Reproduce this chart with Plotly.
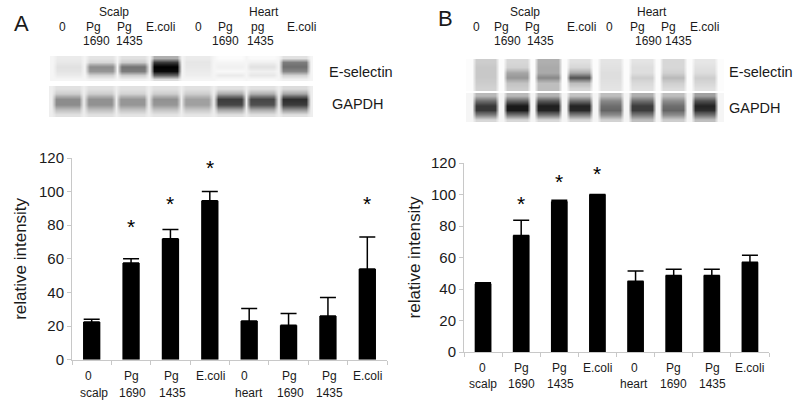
import plotly.graph_objects as go

# ---------- data ----------
values_a = [22.5, 57.5, 72, 94.5, 23, 20.5, 26, 54]
errors_a = [1.5, 2.5, 5.5, 5.5, 7.5, 7, 11, 19]
values_b = [43.3, 74, 95.5, 100, 45, 48.5, 48.5, 57]
errors_b = [0.7, 9.7, 0.8, 0, 6.5, 4, 4, 4.5]
stars_a = [(1, 79.5), (2, 93), (3, 114.5), (7, 93)]
stars_b = [(1, 94.5), (2, 108), (3, 113.5)]
y_ticks = [0, 20, 40, 60, 80, 100, 120]

line1_a = ["0", "Pg", "Pg", "E.coli", "0", "Pg", "Pg", "E.coli"]
line2_a = ["scalp", "1690", "1435", "", "heart", "1690", "1435", ""]
shift1_a = [-3, 0, 1, 1, -5, 1, 2, 0]
shift2_a = [2, 1, 2, 0, 0, 2, 2, 0]
shift1_b = [-1, 0, 0, 0, -1, 0, 1, 0]
shift2_b = [0, 0, 1, 0, -2, 0, 1, 0]

# gray levels of the blots, one top-to-bottom profile per lane
esel_a = [[235,232,225,228,235,245],[228,215,140,150,210,240],[225,205,115,125,205,240],[175,60,0,10,100,220],
          [235,230,232,235,238,245],[252,245,240,248,235,248],[250,240,225,240,232,248],[225,125,110,135,210,240]]
gapdh_a = [[225,205,140,140,190,225],[225,205,145,145,190,225],[225,210,150,150,195,228],[225,205,145,150,195,228],
           [225,205,160,160,200,230],[225,170,60,70,165,225],[225,175,70,80,170,225],[220,165,45,60,150,225]]
esel_b = [[205,200,200,200,205,210],[215,210,165,150,195,205],[175,170,170,135,190,190],[225,215,170,80,190,215],
          [228,225,222,222,225,228],[228,222,222,205,218,225],[215,215,208,185,208,220],[230,225,220,205,215,225]]
gapdh_b = [[185,110,55,55,125,215],[185,100,25,25,115,215],[180,90,30,35,115,215],[195,110,35,40,125,215],
           [190,135,110,100,140,210],[175,110,60,60,120,190],[190,140,110,100,140,205],[160,80,35,45,110,190]]

top_labels_a = [("Scalp",114,12),("Heart",264,12),("0",62,27),("Pg",93,27),("Pg",124,27),("E.coli",160,27),
                ("0",198,27),("Pg",225,27),("pg",257,27),("E.coli",301,27),("1690",96,41),("1435",129,41),
                ("1690",226,41),("1435",260,41)]
top_labels_b = [("Scalp",525,12),("Heart",652,12),("0",477,27),("Pg",502,27),("Pg",532,27),("E.coli",581,27),
                ("0",609,27),("Pg",637,27),("Pg",668,27),("E.coli",704,27),("1690",507,41),("1435",540,41),
                ("1690",648,41),("1435",678,41)]

# ---------- helpers ----------
W, H = 800, 404
FONT = "Liberation Sans"
INK = "#1a1a1a"
AXIS = "#c8c8c8"
px = lambda x: x / W
py = lambda y: 1 - y / H

def blot_matrix(profiles, repeat, gap, gap_cols):
    rows = []
    for r in range(len(profiles[0])):
        row = [gap] * gap_cols
        for lane in profiles:
            row += [lane[r]] * repeat + [gap] * gap_cols
        rows.append(row)
    return rows

fig = go.Figure()

def add_bars(values, errors, xa, ya):
    fig.add_trace(go.Bar(
        x=list(range(8)), y=values, width=0.44, marker=dict(color="#000000", line_width=0),
        error_y=dict(type="data", symmetric=False, array=errors, arrayminus=[0]*8,
                     color="#000000", thickness=1.5, width=8),
        xaxis=xa, yaxis=ya, showlegend=False))

add_bars(values_a, errors_a, "x", "y")
add_bars(values_b, errors_b, "x2", "y2")

blots = [
    (esel_a, 6, 245, 1, (50, 313), (56, 81)),
    (gapdh_a, 6, 238, 1, (49, 313), (86, 117)),
    (esel_b, 6, 252, 2, (466, 724), (59, 91)),
    (gapdh_b, 6, 245, 2, (466, 724), (93, 122)),
]
layout = {}
for i, (prof, rep, gap, gap_cols, xr, yr) in enumerate(blots):
    n = i + 3
    fig.add_trace(go.Heatmap(z=blot_matrix(prof, rep, gap, gap_cols), zmin=0, zmax=255, zsmooth="best",
                             colorscale=[[0, "#000000"], [1, "#ffffff"]], showscale=False,
                             xaxis=f"x{n}", yaxis=f"y{n}", hoverinfo="skip"))
    layout[f"xaxis{n}"] = dict(domain=[px(xr[0]), px(xr[1])], visible=False, anchor=f"y{n}")
    layout[f"yaxis{n}"] = dict(domain=[py(yr[1]), py(yr[0])], visible=False, anchor=f"x{n}",
                               autorange="reversed")

def x_axis(dom, anchor):
    return dict(domain=[px(dom[0]), px(dom[1])], range=[-0.5, 7.5], anchor=anchor, showgrid=False,
                zeroline=False, showline=True, linecolor=AXIS, linewidth=1, tick0=-0.5, dtick=1,
                ticks="outside", ticklen=4, tickcolor=AXIS, showticklabels=False, automargin=False)

def y_axis(dom, anchor, standoff):
    return dict(domain=[py(dom[1]), py(dom[0])], range=[0, 120], anchor=anchor, showgrid=False,
                zeroline=False, showline=True, linecolor=AXIS, linewidth=1, tickvals=y_ticks,
                ticks="outside", ticklen=4, tickcolor=AXIS, automargin=False,
                tickfont=dict(family=FONT, size=15, color=INK),
                title=dict(text="relative intensity", standoff=standoff,
                           font=dict(family=FONT, size=17, color=INK)))

layout.update(
    xaxis=x_axis((72, 387), "y"), yaxis=y_axis((158, 359.7), "x", 8),
    xaxis2=x_axis((464, 769), "y2"), yaxis2=y_axis((163, 352), "x2", 6),
)

ann = []
def label(text, x, y, size=12):
    ann.append(dict(text=text, x=px(x), y=py(y), xref="paper", yref="paper", showarrow=False,
                    xanchor="center", yanchor="middle", font=dict(family=FONT, size=size, color=INK)))

for t, x, y in top_labels_a + top_labels_b:
    label(t, x, y)
label("E-selectin", 361, 72, 14.5)
label("GAPDH", 358, 104, 14.5)
label("E-selectin", 761, 72, 14.5)
label("GAPDH", 755, 108, 14.5)
label("A", 21, 23, 22)
label("B", 445, 18, 22)

def cat_labels(xa, y1, y2, s1, s2):
    for i in range(8):
        ann.append(dict(text=line1_a[i], x=i, xref=xa, y=py(y1), yref="paper", xshift=s1[i], showarrow=False,
                        yanchor="middle", font=dict(family=FONT, size=12, color=INK)))
        if line2_a[i]:
            ann.append(dict(text=line2_a[i], x=i, xref=xa, y=py(y2), yref="paper", xshift=s2[i], showarrow=False,
                            yanchor="middle", font=dict(family=FONT, size=12, color=INK)))

cat_labels("x", 376, 393, shift1_a, shift2_a)
cat_labels("x2", 368, 384, shift1_b, shift2_b)

def star_labels(stars, xa, ya):
    for i, v in stars:
        ann.append(dict(text="*", x=i, y=v, xref=xa, yref=ya, showarrow=False, yanchor="middle",
                        font=dict(family=FONT, size=21, color="#000000")))
star_labels(stars_a, "x", "y")
star_labels(stars_b, "x2", "y2")

fig.update_layout(width=W, height=H, margin=dict(l=0, r=0, t=0, b=0), paper_bgcolor="white",
                  plot_bgcolor="white", annotations=ann, **layout)
fig.write_html("out.html", config={"displayModeBar": False},
               post_script="document.body.style.margin='0';document.body.style.overflow='hidden';")
